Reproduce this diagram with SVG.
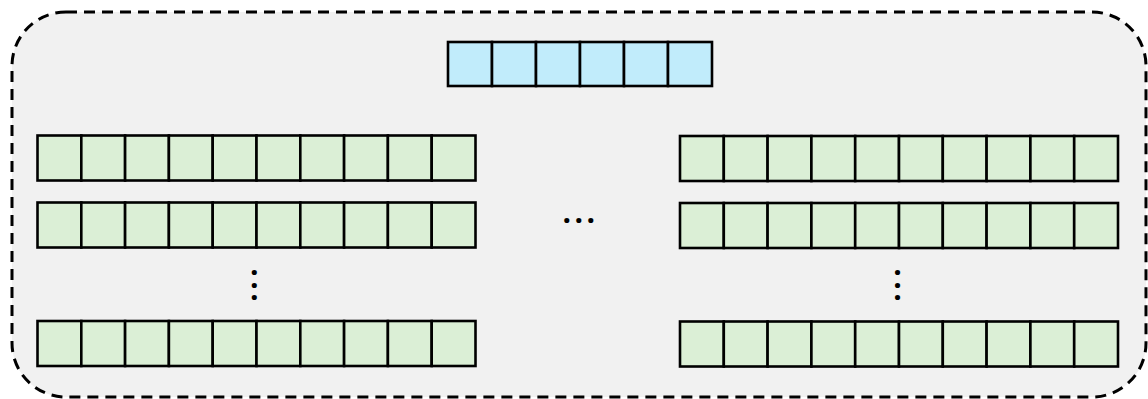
<svg xmlns="http://www.w3.org/2000/svg" width="1148" height="399" viewBox="0 0 1148 399">
<style>
.frame{fill:#f1f1f1;stroke:#000;stroke-width:3;stroke-dasharray:11 7}
.b{fill:#c1ecfb;stroke:#000;stroke-width:2.6}
.g{fill:#dbefd6;stroke:#000;stroke-width:2.6}
.dots{font-family:"Open Sans",sans-serif;font-weight:bold;font-size:30px;fill:#000;text-anchor:middle}
</style>
<defs>
<g id="cell6">
<rect class="b" x="0" y="0" width="44" height="44"/><rect class="b" x="44" y="0" width="44" height="44"/><rect class="b" x="88" y="0" width="44" height="44"/><rect class="b" x="132" y="0" width="44" height="44"/><rect class="b" x="176" y="0" width="44" height="44"/><rect class="b" x="220" y="0" width="44" height="44"/>
</g>
<g id="row10">
<rect class="g" x="0" y="0" width="43.8" height="45"/><rect class="g" x="43.8" y="0" width="43.8" height="45"/><rect class="g" x="87.6" y="0" width="43.8" height="45"/><rect class="g" x="131.4" y="0" width="43.8" height="45"/><rect class="g" x="175.2" y="0" width="43.8" height="45"/><rect class="g" x="219" y="0" width="43.8" height="45"/><rect class="g" x="262.8" y="0" width="43.8" height="45"/><rect class="g" x="306.6" y="0" width="43.8" height="45"/><rect class="g" x="350.4" y="0" width="43.8" height="45"/><rect class="g" x="394.2" y="0" width="43.8" height="45"/>
</g>
</defs>
<rect id="container" class="frame" x="12" y="12" width="1134" height="385" rx="54" ry="54"/>
<g id="top-row"><use href="#cell6" x="448" y="42"/></g>
<g id="left-row-1"><use href="#row10" x="37.5" y="135.5"/></g>
<g id="left-row-2"><use href="#row10" x="37.5" y="202.5"/></g>
<g id="left-row-n"><use href="#row10" x="37.5" y="321"/></g>
<g id="right-row-1"><use href="#row10" x="680" y="136"/></g>
<g id="right-row-2"><use href="#row10" x="680" y="203"/></g>
<g id="right-row-n"><use href="#row10" x="680" y="321.5"/></g>
<g id="connectors"></g>
<text class="dots" x="566.7 578.7 590.7" y="223.3">...</text>
<text class="dots" x="254.3 254.3 254.3" y="275.3 287.6 299.9">...</text>
<text class="dots" x="897.5 897.5 897.5" y="275.3 287.6 299.9">...</text>
</svg>
